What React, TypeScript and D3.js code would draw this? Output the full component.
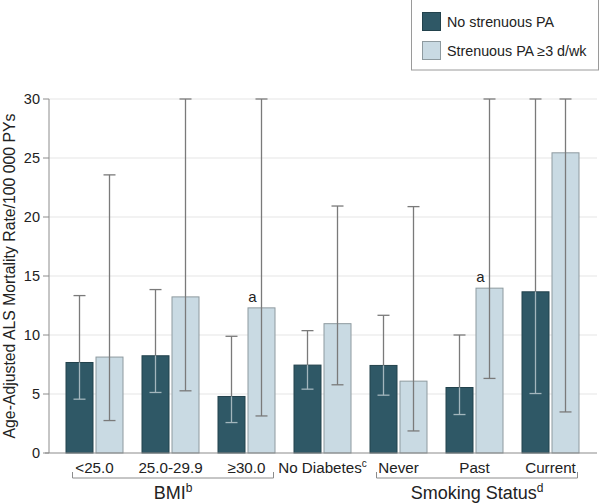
import React from "react";
import * as d3 from "d3";

const categories = ["<25.0", "25.0-29.9", "≥30.0", "No Diabetes", "Never", "Past", "Current"];
const catSup = ["", "", "", "c", "", "", ""];
const noPA = [7.67, 8.24, 4.79, 7.45, 7.42, 5.55, 13.66];
const noPALow = [4.56, 5.13, 2.58, 5.41, 4.9, 3.26, 5.04];
const noPAHigh = [13.34, 13.85, 9.89, 10.37, 11.67, 10.0, 30];
const pa = [8.13, 13.23, 12.3, 10.96, 6.09, 13.97, 25.44];
const paLow = [2.75, 5.27, 3.14, 5.78, 1.87, 6.32, 3.48];
const paHigh = [23.57, 30, 30, 20.93, 20.88, 30, 30];
const paAnnot = ["", "", "a", "", "", "a", ""];
const yTicks = [0, 5, 10, 15, 20, 25, 30];
const groups = [
  { label: "BMI", sup: "b", from: 0, to: 2 },
  { label: "Smoking Status", sup: "d", from: 4, to: 6 },
];
const seriesNames = ["No strenuous PA", "Strenuous PA ≥3 d/wk"];

const DARK = "#2f5866";
const LIGHT = "#c9dae3";
const TXT = "#222";
const FONT = "'Liberation Sans', Arial, sans-serif";

export default function App() {
  const W = 600, H = 504;
  const axisX = 49, plotRight = 597;
  const y = d3.scaleLinear().domain([0, 30]).range([453, 99]);
  const x = d3.scaleBand<string>().domain(categories).range([56.5, 588.5]).paddingInner(0).paddingOuter(0);
  const bw = 27;
  const gap = 3;
  const center = (i: number) => (x(categories[i]) as number) + x.bandwidth() / 2;

  return (
    <svg width={W} height={H} style={{ position: "absolute", left: 0, top: 0, fontFamily: FONT }}>
      <rect width={W} height={H} fill="#fff" />
      {yTicks.filter((t) => t > 0).map((t) => (
        <line key={t} x1={axisX} x2={plotRight} y1={y(t)} y2={y(t)} stroke="#e6e6e6" strokeWidth={1.2} />
      ))}
      <line x1={axisX} x2={axisX} y1={y(30)} y2={y(0)} stroke="#8c8c8c" strokeWidth={1} />
      {yTicks.map((t) => (
        <g key={t}>
          <line x1={axisX - 6} x2={axisX} y1={y(t)} y2={y(t)} stroke="#8c8c8c" />
          <text x={axisX - 9} y={y(t) + 5} textAnchor="end" fontSize={14.5} fill={TXT}>{t}</text>
        </g>
      ))}
      <text transform={`translate(15,${(y(0) + y(30)) / 2}) rotate(-90)`} textAnchor="middle" fontSize={15.8} fill={TXT}>
        Age-Adjusted ALS Mortality Rate/100 000 PYs
      </text>
      {categories.map((c, i) => {
        const cx = center(i);
        const dx = cx - gap / 2 - bw;
        const lx = cx + gap / 2;
        const dc = dx + bw / 2;
        const lc = lx + bw / 2;
        return (
          <g key={c}>
            <rect x={dx} y={y(noPA[i])} width={bw} height={y(0) - y(noPA[i])} fill={DARK} stroke="#22424c" strokeWidth={1} />
            <rect x={lx} y={y(pa[i])} width={bw} height={y(0) - y(pa[i])} fill={LIGHT} stroke="#8e9a9f" strokeWidth={1} />
            <line x1={dc} x2={dc} y1={y(noPAHigh[i])} y2={y(noPA[i])} stroke="#7a7a7a" strokeWidth={1.3} />
            <line x1={dc} x2={dc} y1={y(noPA[i])} y2={y(noPALow[i])} stroke="#a3b6bd" strokeWidth={1.3} />
            <line x1={dc - 6} x2={dc + 6} y1={y(noPAHigh[i])} y2={y(noPAHigh[i])} stroke="#7a7a7a" strokeWidth={1.3} />
            <line x1={dc - 6} x2={dc + 6} y1={y(noPALow[i])} y2={y(noPALow[i])} stroke="#a3b6bd" strokeWidth={1.3} />
            <line x1={lc} x2={lc} y1={y(paHigh[i])} y2={y(paLow[i])} stroke="#7a7a7a" strokeWidth={1.3} />
            <line x1={lc - 6} x2={lc + 6} y1={y(paHigh[i])} y2={y(paHigh[i])} stroke="#7a7a7a" strokeWidth={1.3} />
            <line x1={lc - 6} x2={lc + 6} y1={y(paLow[i])} y2={y(paLow[i])} stroke="#7a7a7a" strokeWidth={1.3} />
            {paAnnot[i] && (
              <text x={lc - 9} y={y(pa[i]) - 6} textAnchor="middle" fontSize={15} fill={TXT}>{paAnnot[i]}</text>
            )}
            <text x={cx} y={473} textAnchor="middle" fontSize={15.2} fill={TXT}>
              {c}
              {catSup[i] && <tspan fontSize={10} dy={-6}>{catSup[i]}</tspan>}
            </text>
          </g>
        );
      })}
      <line x1={45} x2={plotRight} y1={y(0)} y2={y(0)} stroke="#8c8c8c" strokeWidth={1.2} />
      {groups.map((g) => {
        const x1 = center(g.from) - 22;
        const x2 = center(g.to) + 27;
        const by = 478;
        return (
          <g key={g.label}>
            <path d={`M${x1},${by - 6}V${by}H${x2}V${by - 6}`} fill="none" stroke="#8c8c8c" strokeWidth={1} />
            <text x={(x1 + x2) / 2} y={499} textAnchor="middle" fontSize={18} fill={TXT}>
              {g.label}
              <tspan fontSize={12} dy={-7}>{g.sup}</tspan>
            </text>
          </g>
        );
      })}
      <rect x={411.5} y={-1} width={187} height={71} fill="#fff" stroke="#9a9a9a" strokeWidth={1} />
      {seriesNames.map((s, i) => (
        <g key={s}>
          <rect x={422.5} y={12.5 + i * 29} width={18} height={18} fill={i === 0 ? DARK : LIGHT} stroke={i === 0 ? "#22424c" : "#8e9a9f"} />
          <text x={447} y={27 + i * 29} fontSize={14.3} fill={TXT}>{s}</text>
        </g>
      ))}
    </svg>
  );
}
